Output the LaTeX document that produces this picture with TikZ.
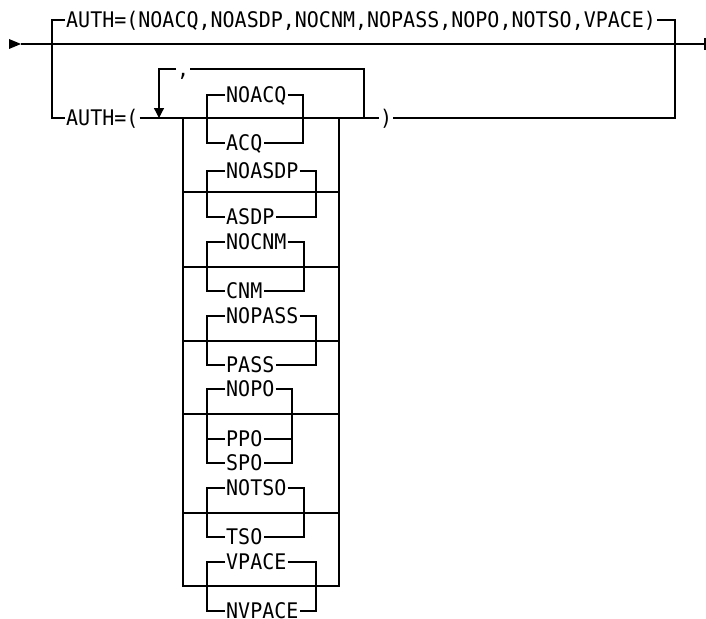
\documentclass[tikz,border=0pt]{standalone}
\usepackage{fontspec}
\setmonofont[FakeStretch=0.93]{DejaVu Sans Mono}
\usetikzlibrary{arrows.meta}

\begin{document}
\begin{tikzpicture}[
        x=1pt, y=-1pt,
        kw/.style={anchor=west, font=\ttfamily\fontsize{21.5}{25}\selectfont, inner xsep=1pt, inner ysep=0pt, text height=15.7pt, text depth=0pt},
        rail/.style={line width=1.3pt, black},
        back/.style={rail, -{Triangle[length=10pt, width=10pt]}},
    ]
        \useasboundingbox (0,0) rectangle (706,618);

        % Entry and exit
        \coordinate (start) at (21,44);
        \coordinate (stop) at (705,44);
        \fill (9,39) -- (start) -- (9,49) -- cycle;
        \draw[rail] (start) -- (stop);
        \draw[rail] (705,38) -- (705,50);

        % Keywords on the main rails
        \node[kw] (alldef) at (65,20) {AUTH=(NOACQ,NOASDP,NOCNM,NOPASS,NOPO,NOTSO,VPACE)};
        \node[kw] (open)   at (65,118) {AUTH=(};
        \node[kw] (close)  at (379,118) {)};
        \node[kw] (comma)  at (176,69) {,};

        % Rails: upper and lower branch
        \draw[rail] (alldef.west) -| (52,118) -- (open.west);
        \draw[rail] (alldef.east) -| (675,118) -- (close.east);
        \draw[rail] (open.east) -- (close.west);

        % Rails: repeat loop
        \draw[rail] (364,118) |- (comma.east);
        \draw[back] (comma.west) -| (159,118);

        % Choice box
        \draw[rail] (183,118) rectangle (339,586);
        \foreach \y in {192,267,341,414,513}
            \draw[rail] (183,\y) -- (339,\y);

        % Group: ACQ
        \node[kw] (noacq) at (225,95)  {NOACQ};
        \node[kw] (acq)   at (225,143) {ACQ};
        \draw[rail] (noacq.west) -| (207,143) -- (acq.west);
        \draw[rail] (noacq.east) -| (303,143) -- (acq.east);

        % Group: ASDP
        \node[kw] (noasdp) at (225,171) {NOASDP};
        \node[kw] (asdp)   at (225,217) {ASDP};
        \draw[rail] (noasdp.west) -| (207,217) -- (asdp.west);
        \draw[rail] (noasdp.east) -| (316,217) -- (asdp.east);

        % Group: CNM
        \node[kw] (nocnm) at (225,242) {NOCNM};
        \node[kw] (cnm)   at (225,291) {CNM};
        \draw[rail] (nocnm.west) -| (207,291) -- (cnm.west);
        \draw[rail] (nocnm.east) -| (304,291) -- (cnm.east);

        % Group: PASS
        \node[kw] (nopass) at (225,316) {NOPASS};
        \node[kw] (pass)   at (225,365) {PASS};
        \draw[rail] (nopass.west) -| (207,365) -- (pass.west);
        \draw[rail] (nopass.east) -| (316,365) -- (pass.east);

        % Group: PO
        \node[kw] (nopo) at (225,389) {NOPO};
        \node[kw] (ppo)  at (225,439) {PPO};
        \node[kw] (spo)  at (225,463) {SPO};
        \draw[rail] (nopo.west) -| (207,463) -- (spo.west);
        \draw[rail] (nopo.east) -| (292,463) -- (spo.east);
        \draw[rail] (207,439) -- (ppo.west);
        \draw[rail] (ppo.east) -- (292,439);

        % Group: TSO
        \node[kw] (notso) at (225,488) {NOTSO};
        \node[kw] (tso)   at (225,537) {TSO};
        \draw[rail] (notso.west) -| (207,537) -- (tso.west);
        \draw[rail] (notso.east) -| (304,537) -- (tso.east);

        % Group: VPACE
        \node[kw] (vpace)  at (225,562) {VPACE};
        \node[kw] (nvpace) at (225,611) {NVPACE};
        \draw[rail] (vpace.west) -| (207,611) -- (nvpace.west);
        \draw[rail] (vpace.east) -| (316,611) -- (nvpace.east);

    \end{tikzpicture}
\end{document}
